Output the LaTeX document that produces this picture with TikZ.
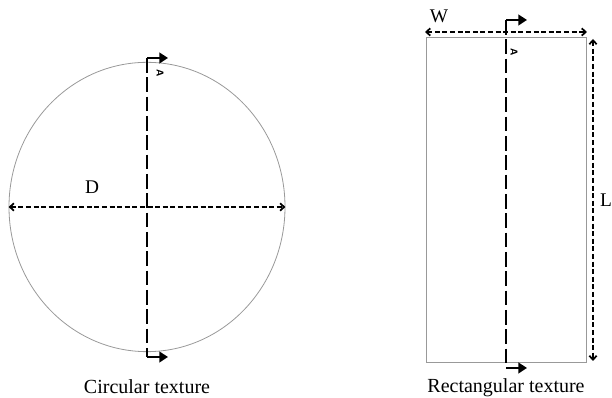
\documentclass[tikz,border=0pt]{standalone}
\usepackage{fontspec}
\setmainfont{Liberation Serif}
\usetikzlibrary{arrows.meta,positioning,shapes.geometric,calc}

\begin{document}
\begin{tikzpicture}[x=0.75pt,y=0.75pt,
          outline/.style={draw=gray!80,line width=0.6pt,inner sep=0pt},
          dimline/.style={{Straight Barb[length=3pt,width=5.5pt]}-{Straight Barb[length=3pt,width=5.5pt]},
                          line width=1.3pt,dash pattern=on 3.8pt off 1.9pt},
          cutline/.style={line width=1.8pt,dash pattern=on 11pt off 3.5pt},
          cutstub/.style={line width=2pt,-{Triangle[length=6.5pt,width=8pt]}},
          lbl/.style={font=\fontsize{14.5}{16}\selectfont,inner sep=1pt},
          caption/.style={font=\fontsize{15}{17}\selectfont,inner sep=1pt},
          secname/.style={font=\fontsize{7.5}{8}\selectfont\sffamily\bfseries,rotate=-90,inner sep=0pt}]
        \useasboundingbox (0,0) rectangle (612,398);
        % circular texture
        \node[outline,ellipse,minimum width=207pt,minimum height=217pt] (circ) at (147,191) {};
        \draw[dimline] (circ.west) -- (circ.east);
        \node[lbl] (dlbl) at (92,211) {D};
        \coordinate (ct) at (147,340);
        \coordinate (cb) at (147,41);
        \coordinate (cte) at (168,340);
        \coordinate (cbe) at (168,41);
        \draw[cutline] (ct) -- (cb);
        \draw[cutstub] (ct) -- (cte);
        \draw[cutstub] (cb) -- (cbe);
        \node[secname] (ca) at (160,325) {A};
        \node[caption] (ccap) at (147,11) {Circular texture};
        % rectangular texture
        \node[outline,rectangle,minimum width=120pt,minimum height=243.75pt] (rect) at (506,198.5) {};
        \coordinate (wl) at (425,366);
        \coordinate (wr) at (587,366);
        \draw[dimline] (wl) -- (wr);
        \node[lbl] (wlbl) at (439,382) {W};
        \coordinate (lt) at (593,359);
        \coordinate (lb) at (593,37);
        \draw[dimline] (lt) -- (lb);
        \node[lbl] (llbl) at (606,198) {L};
        \coordinate (rt) at (506,378);
        \coordinate (rb) at (506,30);
        \coordinate (rte) at (527,378);
        \coordinate (rbe) at (527,30);
        \draw[cutline] (rt) -- (rb);
        \draw[cutstub] (rt) -- (rte);
        \draw[cutstub] (rb) -- (rbe);
        \node[secname] (ra) at (514,346) {A};
        \node[caption] (rcap) at (506,10) {Rectangular texture};
\end{tikzpicture}
\end{document}
